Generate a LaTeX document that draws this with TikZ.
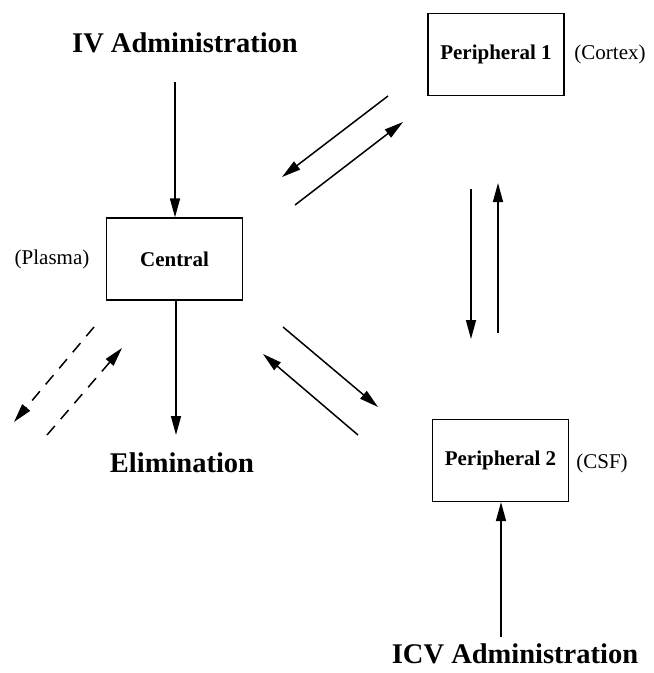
\documentclass[tikz,border=0pt]{standalone}
\usepackage{fontspec}
\setmainfont{Liberation Serif}
\usetikzlibrary{arrows.meta}
\begin{document}
\begin{tikzpicture}[x=1pt,y=-1pt,
  box/.style={draw, line width=1.2pt, minimum width=136pt, minimum height=82pt, inner sep=0pt,
    font=\fontsize{21}{24}\selectfont\bfseries},
  heading/.style={inner sep=0pt, font=\fontsize{28.5}{32}\selectfont\bfseries},
  note/.style={inner sep=0pt, font=\fontsize{21}{24}\selectfont},
  arr/.style={line width=1.5pt, -{Triangle[length=19pt,width=10pt]}},
  darr/.style={arr, dash pattern=on 12pt off 9pt}]
\useasboundingbox (0,0) rectangle (654,673);

% boxes
\node[box] (central) at (174.5,259) {Central};
\node[box] (p1) at (496,54.5) {Peripheral 1};
\node[box] (p2) at (500.5,460.5) {Peripheral 2};

% labels
\node[note] (plasma) at (52,259) {(Plasma)};
\node[note] (cortex) at (610,54) {(Cortex)};
\node[note] (csf) at (602,463) {(CSF)};

% headings
\node[heading] (iv) at (185,43) {IV Administration};
\node[heading] (elim) at (182,463) {Elimination};
\node[heading] (icv) at (515,654) {ICV Administration};

% free ends
\coordinate (ivstart) at (175,82);
\coordinate (elimend) at (176,435);
\coordinate (icvstart) at (501,637);
\coordinate (a1s) at (388,96);   \coordinate (a1e) at (282,177);
\coordinate (a2s) at (295,205);  \coordinate (a2e) at (403,122);
\coordinate (v1s) at (471,189);  \coordinate (v1e) at (471,339);
\coordinate (v2s) at (498,333);  \coordinate (v2e) at (498,183);
\coordinate (b1s) at (283,327);  \coordinate (b1e) at (378,407);
\coordinate (b2s) at (358,435);  \coordinate (b2e) at (263,354);
\coordinate (d1s) at (94,327);   \coordinate (d1e) at (14,422);
\coordinate (d2s) at (47,435);   \coordinate (d2e) at (122,348);

% connectors
\draw[arr] (ivstart) -- (ivstart |- central.north);
\draw[arr] (central.south -| elimend) -- (elimend);
\draw[arr] (icvstart) -- (icvstart |- p2.south);
\draw[arr] (a1s) -- (a1e);
\draw[arr] (a2s) -- (a2e);
\draw[arr] (v1s) -- (v1e);
\draw[arr] (v2s) -- (v2e);
\draw[arr] (b1s) -- (b1e);
\draw[arr] (b2s) -- (b2e);
\draw[darr] (d1s) -- (d1e);
\draw[darr] (d2s) -- (d2e);
\end{tikzpicture}
\end{document}
